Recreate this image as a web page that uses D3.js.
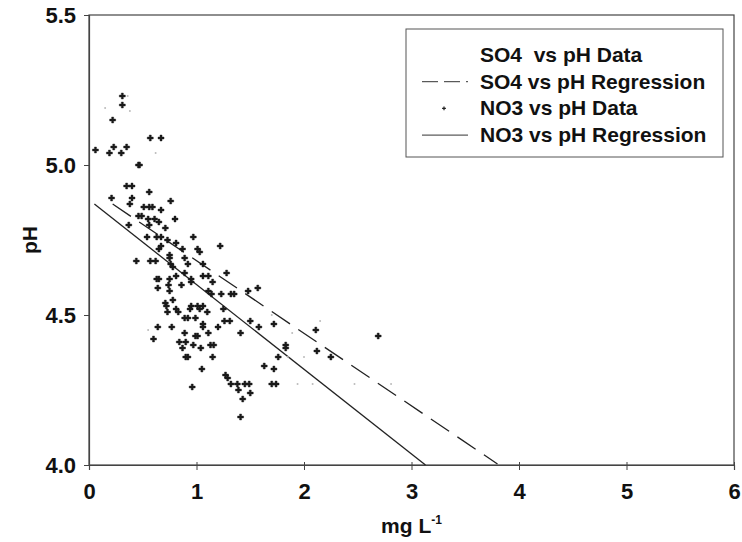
<!DOCTYPE html>
<html>
<head>
<meta charset="utf-8">
<script src="https://cdn.jsdelivr.net/npm/d3@7"></script>
<style>
  body { margin: 0; background: #fff; }
  text { font-family: "Liberation Sans", Arial, sans-serif; font-weight: bold; fill: #111; }
</style>
</head>
<body>
<div id="chart"></div>
<script>
"use strict";

// NO3 vs pH observations [mg/L, pH]
var no3Points = [
	[0.31,5.23],[0.31,5.20],[0.22,5.15],[0.57,5.09],[0.67,5.09],[0.06,5.05],[0.23,5.06],[0.35,5.06],
	[0.19,5.04],[0.30,5.04],[0.46,5.00],[0.47,5.00],[0.35,4.93],[0.40,4.93],[0.56,4.91],[0.21,4.89],
	[0.40,4.89],[0.38,4.87],[0.56,4.86],[0.59,4.86],[0.51,4.86],[0.67,4.85],[0.76,4.88],[0.46,4.83],
	[0.49,4.83],[0.55,4.82],[0.56,4.80],[0.61,4.82],[0.65,4.81],[0.80,4.82],[0.37,4.80],[0.71,4.79],
	[0.63,4.76],[0.67,4.76],[0.54,4.76],[0.73,4.75],[0.81,4.74],[0.67,4.73],[0.97,4.76],[1.22,4.73],
	[0.87,4.72],[0.65,4.72],[0.75,4.70],[0.75,4.69],[0.89,4.69],[1.01,4.72],[1.03,4.71],[0.44,4.68],
	[0.57,4.68],[0.62,4.68],[0.76,4.67],[0.92,4.67],[1.06,4.67],[0.78,4.66],[0.81,4.63],[0.89,4.64],
	[0.63,4.62],[0.65,4.62],[0.75,4.62],[0.95,4.62],[1.06,4.63],[1.11,4.63],[1.28,4.64],[1.15,4.61],
	[0.64,4.59],[0.74,4.60],[0.75,4.58],[0.86,4.60],[0.95,4.61],[1.11,4.58],[1.14,4.57],[1.23,4.57],
	[1.32,4.57],[1.35,4.57],[1.57,4.59],[1.48,4.58],[0.71,4.54],[0.78,4.55],[0.95,4.53],[1.01,4.53],
	[1.06,4.53],[0.72,4.53],[0.81,4.52],[0.83,4.51],[0.89,4.49],[0.92,4.49],[0.94,4.52],[1.03,4.52],
	[1.10,4.51],[0.99,4.49],[0.73,4.51],[1.25,4.52],[0.64,4.46],[0.77,4.46],[0.60,4.42],[0.89,4.44],
	[1.06,4.47],[1.06,4.46],[1.11,4.44],[1.20,4.46],[1.26,4.48],[1.31,4.48],[0.99,4.43],[1.01,4.43],
	[0.84,4.41],[0.90,4.41],[0.87,4.39],[0.97,4.40],[1.04,4.39],[1.13,4.40],[1.16,4.40],[0.90,4.36],
	[0.92,4.36],[1.15,4.36],[1.41,4.44],[1.50,4.48],[1.58,4.46],[1.05,4.32],[1.27,4.30],[1.29,4.29],
	[1.32,4.27],[1.38,4.27],[1.45,4.27],[1.49,4.27],[0.96,4.26],[1.39,4.25],[1.50,4.24],[1.43,4.22],
	[1.41,4.16],[1.63,4.33],[1.72,4.47],[2.11,4.45],[2.69,4.43],[1.83,4.40],[1.83,4.39],[2.12,4.38],
	[2.25,4.36],[1.76,4.36],[1.72,4.32],[1.70,4.27],[1.74,4.27]
];

// SO4 vs pH observations (printed very faintly)
var so4Points = [
	[0.15,5.19],[0.36,5.23],[0.38,5.18],[0.28,5.04],[0.62,5.04],[1.94,4.27],[2.08,4.27],[2.47,4.27],
	[2.81,4.27],[1.89,4.44],[2.15,4.48],[2.00,4.36],[1.85,4.36],[0.55,4.45],[1.70,4.50]
];

// regression fits: [intercept, slope], drawn between the range ends
var no3Fit = [4.884, -0.2825];
var no3FitRange = [0.05, 3.13];
var so4Fit = [4.923, -0.242];
var so4FitRange = [0.22, 3.80];

var xTicks = [0, 1, 2, 3, 4, 5, 6];
var yTicks = [4.0, 4.5, 5.0, 5.5];

var legendLabels = ["SO4  vs pH Data", "SO4 vs pH Regression", "NO3 vs pH Data", "NO3 vs pH Regression"];

const width = 742, height = 542;
const margin = {top: 15, right: 8, bottom: 77, left: 89};

let svg = d3.select("#chart").append("svg")
	.attr("width", width)
	.attr("height", height);

svg.append("rect").attr("width", width).attr("height", height).attr("fill", "#fff");

let x = d3.scaleLinear().domain([0, 6]).range([margin.left, width - margin.right]);
let y = d3.scaleLinear().domain([4.0, 5.5]).range([height - margin.bottom, margin.top]);

// frame
svg.append("rect")
	.attr("x", x(0)).attr("y", y(5.5))
	.attr("width", x(6) - x(0)).attr("height", y(4.0) - y(5.5))
	.attr("fill", "none").attr("stroke", "#444").attr("stroke-width", 1.2);

// axes
let xAxis = svg.append("g")
	.attr("transform", `translate(0,${y(4.0)})`)
	.call(d3.axisBottom(x).tickValues(xTicks).tickFormat(d3.format("d")).tickSize(5).tickPadding(13));
let yAxis = svg.append("g")
	.attr("transform", `translate(${x(0)},0)`)
	.call(d3.axisLeft(y).tickValues(yTicks).tickFormat(d3.format(".1f")).tickSize(5).tickPadding(8));

[xAxis, yAxis].forEach((g) => {
	g.select(".domain").attr("stroke", "#444").attr("stroke-width", 1.2);
	g.selectAll(".tick line").attr("stroke", "#444");
	g.selectAll(".tick text")
		.style("font-size", "22px")
		.style("font-family", "'Liberation Sans', Arial, sans-serif")
		.style("font-weight", "bold")
		.attr("fill", "#111");
});
xAxis.selectAll(".tick line").attr("y1", -3);

// axis titles
svg.append("text")
	.attr("transform", `translate(37,${(y(5.5) + y(4.0)) / 2}) rotate(-90)`)
	.attr("text-anchor", "middle")
	.style("font-size", "21px")
	.text("pH");

let xTitle = svg.append("text")
	.attr("x", (x(0) + x(6)) / 2)
	.attr("y", 533)
	.attr("text-anchor", "middle")
	.style("font-size", "21px");
xTitle.append("tspan").text("mg L");
xTitle.append("tspan").attr("dy", -9).style("font-size", "12px").text("-1");

// regression lines
let fitLine = (fit, range) => [range[0], range[1]].map(v => [v, fit[0] + fit[1] * v]);
let line = d3.line().x(d => x(d[0])).y(d => y(d[1]));

svg.append("path")
	.datum(fitLine(so4Fit, so4FitRange))
	.attr("d", line)
	.attr("fill", "none").attr("stroke", "#222").attr("stroke-width", 1.3)
	.attr("stroke-dasharray", "22,10");

svg.append("path")
	.datum(fitLine(no3Fit, no3FitRange))
	.attr("d", line)
	.attr("fill", "none").attr("stroke", "#222").attr("stroke-width", 1.3);

// SO4 data, faint
svg.append("g").selectAll("circle")
	.data(so4Points)
	.enter()
	.append("circle")
		.attr("cx", d => x(d[0]))
		.attr("cy", d => y(d[1]))
		.attr("r", 1)
		.attr("fill", "#bbb");

// NO3 data, small crosses
let cross = d3.symbol().type(d3.symbolCross).size(20);
svg.append("g").selectAll("path")
	.data(no3Points)
	.enter()
	.append("path")
		.attr("d", cross)
		.attr("transform", d => `translate(${x(d[0])},${y(d[1])})`)
		.attr("fill", "#1a1a1a")
		.attr("stroke", "#1a1a1a")
		.attr("stroke-width", 0.4);

// legend
let legend = svg.append("g");
legend.append("rect")
	.attr("x", 406).attr("y", 29).attr("width", 317).attr("height", 128)
	.attr("fill", "#fff").attr("stroke", "#555").attr("stroke-width", 1);

legendLabels.forEach((label, i) => {
	let cy = 55 + i * 26.7;
	legend.append("text")
		.attr("x", 480).attr("y", cy + 7)
		.attr("xml:space", "preserve")
		.style("white-space", "pre")
		.style("font-size", "21px")
		.text(label);
	if (i === 1) {
		legend.append("line").attr("x1", 422).attr("x2", 468).attr("y1", cy).attr("y2", cy)
			.attr("stroke", "#333").attr("stroke-width", 1).attr("stroke-dasharray", "16,6");
	} else if (i === 2) {
		legend.append("path").attr("d", d3.symbol().type(d3.symbolCross).size(8))
			.attr("transform", `translate(444,${cy})`).attr("fill", "#222");
	} else if (i === 3) {
		legend.append("line").attr("x1", 422).attr("x2", 468).attr("y1", cy).attr("y2", cy)
			.attr("stroke", "#333").attr("stroke-width", 1);
	}
});
</script>
</body>
</html>
